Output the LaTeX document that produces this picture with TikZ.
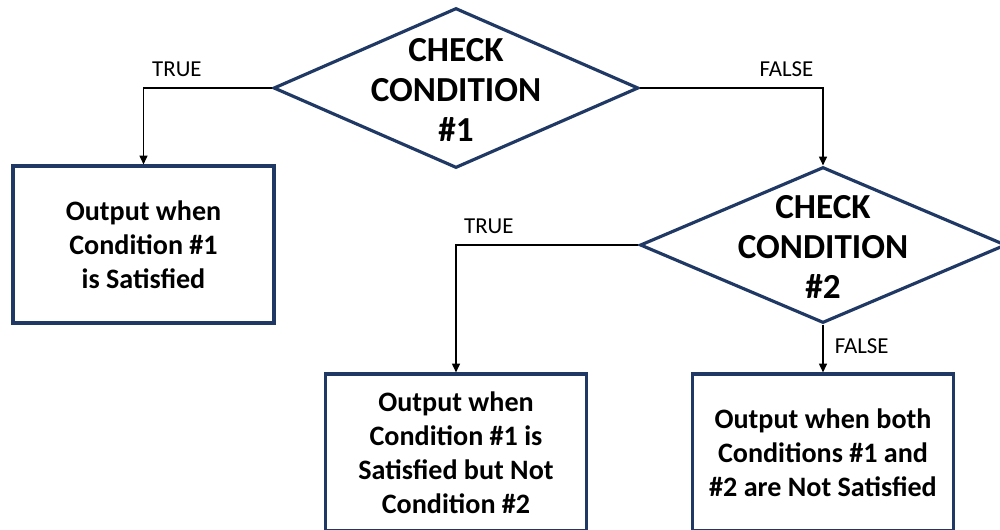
\documentclass[tikz,border=0pt]{standalone}
\usepackage{fontspec}
\setmainfont{Carlito}
\usetikzlibrary{shapes.geometric}
\usetikzlibrary{arrows.meta}
\usetikzlibrary{positioning}
\definecolor{navy}{RGB}{31,56,100}

\begin{document}
\begin{tikzpicture}[x=0.02cm, y=-0.02cm,
        decision/.style={diamond, draw=navy, line width=1.8pt, inner sep=0pt, minimum width=7.3cm, minimum height=3.2cm},
        dtext/.style={font=\fontsize{20}{22.7}\selectfont\bfseries, align=center, inner sep=0pt},
        outbox/.style={rectangle, draw=navy, line width=1.8pt, minimum width=5.22cm, minimum height=3.14cm, align=center, font=\fontsize{16}{19.3}\selectfont\bfseries},
        flow/.style={line width=0.8pt, -{Triangle[length=5pt, width=4.5pt]}},
        lbl/.style={font=\fontsize{13}{15.6}\selectfont}]
        % Page frame
        \useasboundingbox (0,0) rectangle (1000,529);
        \clip (0,0) rectangle (1000,529);

        % Decisions
        \node[decision, label={[dtext, yshift=-1pt]center:{CHECK\\CONDITION\\\#1}}] (cond1) at (456,88) {};
        \node[decision, minimum width=7.32cm, minimum height=3.12cm, label={[dtext, yshift=-1pt]center:{CHECK\\CONDITION\\\#2}}] (cond2) at (823,245) {};

        % Outputs
        \node[outbox] (out1) at (143.5,244.5) {Output when\\Condition \#1\\is Satisfied};
        \node[outbox] (out2) at (456,452.5) {Output when\\Condition \#1 is\\Satisfied but Not\\Condition \#2};
        \node[outbox] (out3) at (823,452.5) {Output when both\\Conditions \#1 and\\\#2 are Not Satisfied};

        % Connectors
        \draw[flow] (cond1.west) -| node[lbl, pos=0.37, above=2.5pt] {TRUE} (out1.north); % true branch
        \draw[flow] (cond1.east) -| node[lbl, pos=0.40, above=2.5pt] {FALSE} (cond2.north); % false branch
        \draw[flow] (cond2.west) -| node[lbl, pos=0.41, above=2.5pt] {TRUE} (out2.north); % true branch
        \draw[flow] (cond2.south) -- node[lbl, right=3pt, pos=0.45] {FALSE} (out3.north); % false branch
\end{tikzpicture}
\end{document}
